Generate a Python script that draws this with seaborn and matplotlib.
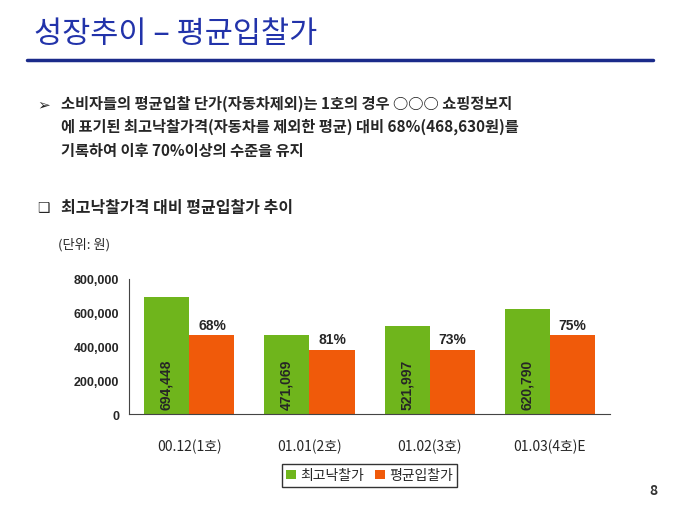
import pandas as pd
import matplotlib.pyplot as plt
import seaborn as sns

periods = ['00.12(1호)', '01.01(2호)', '01.02(3호)', '01.03(4호)E']
max_bid = [694448, 471069, 521997, 620790]
avg_bid = [468630, 381000, 381000, 466000]
ratio_labels = ['68%', '81%', '73%', '75%']
series = ['최고낙찰가', '평균입찰가']

sns.set_style("white")
plt.rcParams['font.family'] = ['Noto Sans CJK KR', 'DejaVu Sans']

df = pd.DataFrame({'period': periods * 2,
                   'value': max_bid + avg_bid,
                   'series': [series[0]] * 4 + [series[1]] * 4})

fig = plt.figure(figsize=(6.8, 5.1), dpi=100)

# header
fig.text(0.05, 0.915, '성장추이 – 평균입찰가', fontsize=22, color='#2233aa')
fig.add_artist(plt.Line2D([0.04, 0.96], [0.88, 0.88], color='#1a2a8a', lw=2.5))
fig.text(0.055, 0.785, '➢', fontsize=11, family=['DejaVu Sans'])
fig.text(0.09, 0.695, '소비자들의 평균입찰 단가(자동차제외)는 1호의 경우 ○○○ 쇼핑정보지\n'
         '에 표기된 최고낙찰가격(자동차를 제외한 평균) 대비 68%(468,630원)를\n'
         '기록하여 이후 70%이상의 수준을 유지', fontsize=11, linespacing=1.55,
         fontweight='bold')
fig.text(0.055, 0.585, '❑', fontsize=10, family=['DejaVu Sans'])
fig.text(0.09, 0.582, '최고낙찰가격 대비 평균입찰가 추이', fontsize=11.5, fontweight='bold')
fig.text(0.085, 0.513, '(단위: 원)', fontsize=9.5)
fig.text(0.955, 0.03, '8', fontsize=10, fontweight='bold', color='#333333')

ax = fig.add_axes([0.19, 0.186, 0.707, 0.265])
sns.barplot(data=df, x='period', y='value', hue='series', ax=ax, width=0.75,
            palette=['#6fb51c', '#f05a0a'], saturation=1, edgecolor='none', legend=True)
ax.set_ylim(0, 800000)
ax.set_yticks(range(0, 800001, 200000))
ax.set_yticklabels([f'{v:,}' for v in range(0, 800001, 200000)], fontsize=9, fontweight='bold',
                   family=['Liberation Sans'])
ax.tick_params(axis='x', labelsize=10, pad=14)
ax.set_xlabel('')
ax.set_ylabel('')
sns.despine(ax=ax, top=True, right=True)
ax.spines['bottom'].set_color('#444444')
ax.spines['left'].set_color('#444444')

for i in range(len(periods)):
    ax.text(i - 0.19, 30000, f'{max_bid[i]:,}', rotation=90, ha='center', va='bottom',
            fontsize=10, fontweight='bold', family=['Liberation Sans'])
    ax.text(i + 0.19, avg_bid[i] + 20000, ratio_labels[i], ha='center', va='bottom',
            fontsize=10, fontweight='bold', family=['Liberation Sans'])

ax.legend(loc='upper center', bbox_to_anchor=(0.5, -0.32), ncol=2, fontsize=10,
          frameon=True, edgecolor='black', fancybox=False, handlelength=0.7,
          handletextpad=0.3, columnspacing=0.8, borderpad=0.3)

fig.savefig('out.png', dpi=100)
